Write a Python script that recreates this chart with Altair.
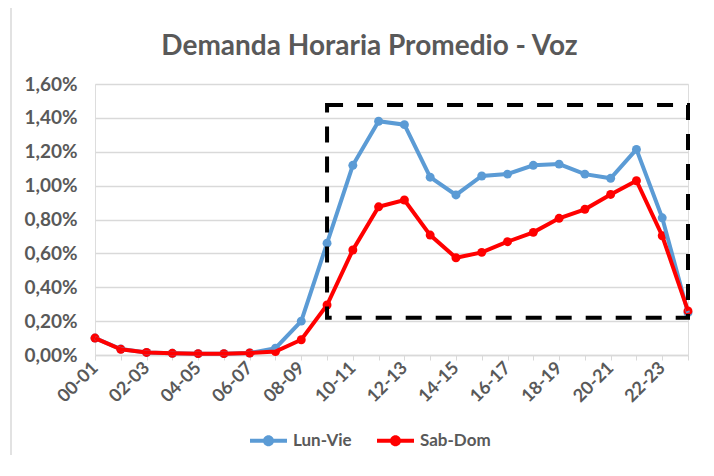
import altair as alt
import pandas as pd

hours = ["00-01", "01-02", "02-03", "03-04", "04-05", "05-06", "06-07", "07-08",
         "08-09", "09-10", "10-11", "11-12", "12-13", "13-14", "14-15", "15-16",
         "16-17", "17-18", "18-19", "19-20", "20-21", "21-22", "22-23", "23-24"]
lun_vie = [0.10, 0.035, 0.015, 0.01, 0.008, 0.008, 0.012, 0.04, 0.20, 0.66,
           1.12, 1.38, 1.36, 1.05, 0.945, 1.057, 1.068, 1.12, 1.127, 1.068,
           1.043, 1.214, 0.81, 0.25]
sab_dom = [0.10, 0.034, 0.015, 0.01, 0.008, 0.008, 0.012, 0.02, 0.09, 0.295,
           0.62, 0.875, 0.915, 0.708, 0.574, 0.606, 0.669, 0.724, 0.807, 0.86,
           0.948, 1.029, 0.704, 0.26]
series = ["Lun-Vie", "Sab-Dom"]
colors = ["#5B9BD5", "#FF0000"]
y_ticks = [0, 0.2, 0.4, 0.6, 0.8, 1.0, 1.2, 1.4, 1.6]
box_x = ["09-10", "23-24"]
box_y = [0.22, 1.476]

rows = []
for s, vals in zip(series, [lun_vie, sab_dom]):
    for h, v in zip(hours, vals):
        rows.append({"hora": h, "serie": s, "valor": v})
df = pd.DataFrame(rows)
box_df = pd.DataFrame({"hora": [box_x[0]], "hora2": [box_x[1]], "valor": [box_y[0]], "valor2": [box_y[1]]})

FONT = "Lato"
TXT = "#595959"
GRID = "#D9D9D9"

even_labels = hours[::2]
x_scale = alt.Scale(type="point", padding=0, domain=hours)
x_axis = alt.Axis(title=None, labelAngle=-45, labelAlign="right", labelBaseline="middle",
                  labelFont=FONT, labelFontSize=18, labelFontWeight="bold", labelColor=TXT,
                  labelPadding=5, domainColor=GRID, domainWidth=1.5, tickColor=GRID, tickSize=5,
                  labelOverlap=False,
                  labelExpr="indexof(" + str(even_labels).replace("'", "\"") + ", datum.value) >= 0 ? datum.value : ''",
                  grid=False)
y_scale = alt.Scale(domain=[0, 1.6], nice=False)
y_axis = alt.Axis(title=None, values=y_ticks,
                  labelExpr="replace(format(datum.value, '.2f'), '.', ',') + '%'",
                  labelFont=FONT, labelFontSize=19, labelFontWeight="bold", labelColor=TXT,
                  labelOverlap=False,
                  labelPadding=18, domain=False, ticks=False, gridColor=GRID, gridWidth=1.5)

x_enc = alt.X("hora:N", scale=x_scale, axis=x_axis)
y_enc = alt.Y("valor:Q", scale=y_scale, axis=y_axis)
color_enc = alt.Color("serie:N", scale=alt.Scale(domain=series, range=colors),
                      legend=alt.Legend(title=None, orient="none", legendX=155, legendY=338,
                                        direction="horizontal",
                                        symbolType="M-1,-0.11H1V0.11H-1Z M0.3,0A0.3,0.3,0,1,1,-0.3,0A0.3,0.3,0,1,1,0.3,0Z",
                                        symbolSize=1369, symbolStrokeWidth=0,
                                        labelFont=FONT, labelFontSize=17, labelFontWeight="bold",
                                        labelColor=TXT, labelOffset=6, columnPadding=25))

base = alt.Chart(df)
points = base.mark_point(filled=True, size=80, opacity=1).encode(x=x_enc, y=y_enc, color=color_enc)
lines = base.mark_line(strokeWidth=4).encode(x=x_enc, y=y_enc, color=color_enc)

box = alt.Chart(box_df).mark_rect(fill=None, stroke="black", strokeWidth=4,
                                  strokeDash=[16, 14], fillOpacity=0).encode(
    x=x_enc, x2="hora2:N", y=y_enc, y2="valor2:Q")

border = alt.Chart(box_df).mark_rect(fill=None, stroke="#D9D9D9", strokeWidth=1.5, fillOpacity=0).encode(
    x=alt.value(-84), x2=alt.value(700), y=alt.value(-78), y2=alt.value(500))

chart = alt.layer(border, points, lines, box).properties(
    width=593, height=271,
    title=alt.TitleParams("Demanda Horaria Promedio - Voz", font=FONT, fontSize=28, fontWeight="bold",
                          color=TXT, anchor="middle", dx=-22, dy=76, offset=20),
    autosize=alt.AutoSizeParams(type="none"),
    padding={"left": 87, "top": 76, "right": 10, "bottom": 100},
).configure_view(stroke=None).configure(background="white")

chart.save("out.html", embed_options={"renderer": "svg", "actions": False})
